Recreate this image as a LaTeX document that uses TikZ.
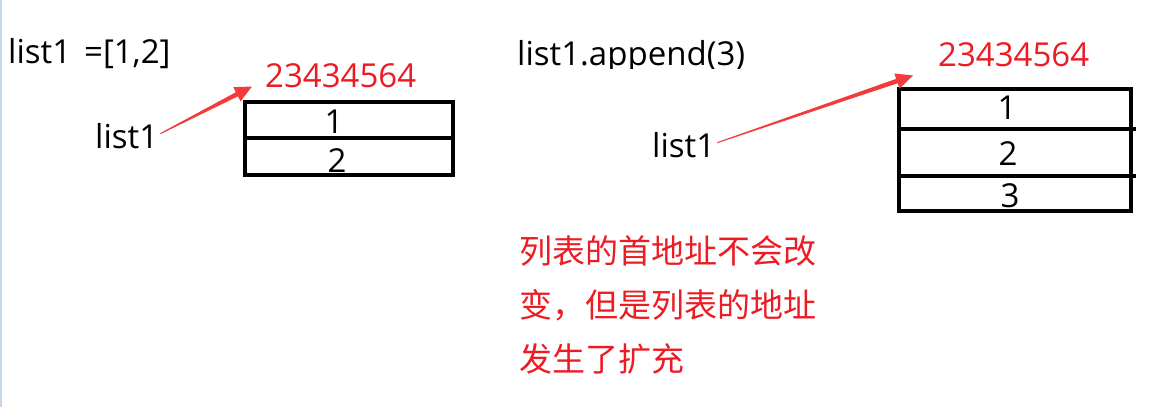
\documentclass[tikz,border=0pt]{standalone}
\usepackage{fontspec}
\setmainfont{Open Sans}
\newfontfamily\cjk{Noto Sans CJK SC}
\usetikzlibrary{arrows.meta,calc}
\definecolor{redtext}{RGB}{237,28,36}
\definecolor{redarrow}{RGB}{242,60,60}
\definecolor{edgeblue}{RGB}{200,214,235}
\tikzset{
  lat/.style={inner sep=0pt, anchor=base west, font=\fontsize{33}{38}\selectfont},
  addr/.style={lat, text=redtext},
  digit/.style={inner sep=0pt, anchor=base, font=\fontsize{33}{38}\selectfont},
  cn/.style={inner sep=0pt, anchor=base west, text=redtext, font=\cjk\fontsize{33}{54}\selectfont},
  boxline/.style={line width=4.5pt, draw=black},
  ptrfill/.style={fill=redarrow, draw=none}
}
% tapered pointer from coordinate #1 to coordinate #2
\newcommand{\mytaper}[2]{%
  \coordinate (hb) at ($(#2)!17pt!(#1)$);
  \fill[ptrfill] ($(#1)!0.5pt!90:(#2)$) -- ($(hb)!2.3pt!-90:(#1)$)
     -- ($(hb)!8pt!-90:(#1)$) -- (#2) -- ($(hb)!8pt!90:(#1)$)
     -- ($(hb)!2.3pt!90:(#1)$) -- ($(#1)!0.5pt!-90:(#2)$) -- cycle;
}
\begin{document}
\begin{tikzpicture}[x=1pt,y=-1pt]
\useasboundingbox (0,0) rectangle (1151,407);
\fill[white] (0,0) rectangle (1151,407);
\draw[edgeblue, line width=2pt] (1,0) -- (1,407);

% left part
\node[lat] (code1) at (8,63) {list1\hspace{13pt}=[1,2]};
\node[addr] (addr1) at (265,87) {23434564};
\node[lat] (var1) at (95,148) {list1};
\draw[boxline] (245,102) rectangle (453,175);
\draw[boxline] (245,138) -- (453,138);
\node[digit] (a1) at (334,133) {1};
\node[digit] (a2) at (337,172) {2};
\coordinate (s1) at ([xshift=2pt,yshift=2pt]var1.east);
\coordinate (t1) at ([xshift=-13pt,yshift=1pt]addr1.south west);
\mytaper{s1}{t1}

% right part
\begin{scope}
\clip (500,20) rectangle (800,68);
\node[lat] (code2) at (517,65) {list1.append(3)};
\end{scope}
\node[addr] (addr2) at (938,66) {23434564};
\node[lat] (var2) at (652,157) {list1};
\draw[boxline] (899,89) rectangle (1131,211);
\draw[boxline] (899,129) -- (1136,129);
\draw[boxline] (899,176) -- (1136,176);
\node[digit] (b1) at (1007,119) {1};
\node[digit] (b2) at (1008,165) {2};
\node[digit] (b3) at (1010,207) {3};
\coordinate (s2) at ([xshift=2pt,yshift=2pt]var2.east);
\coordinate (t2) at ([xshift=-25pt,yshift=-9pt]addr2.south west);
\mytaper{s2}{t2}

% note
\node[cn] (n1) at (519,263) {列表的首地址不会改};
\node[cn] (n2) at (519,317) {变，但是列表的地址};
\node[cn] (n3) at (519,371) {发生了扩充};
\end{tikzpicture}
\end{document}
